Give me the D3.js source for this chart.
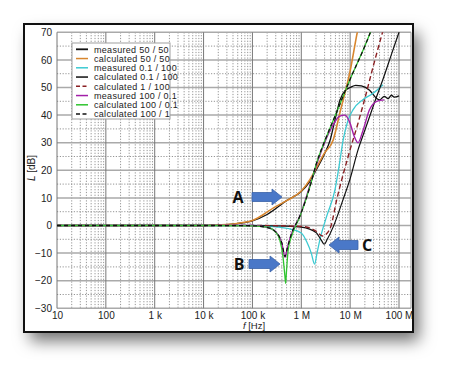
<!DOCTYPE html>
<html><head><meta charset="utf-8">
<script src="https://cdn.jsdelivr.net/npm/d3@7"></script>
<style>
html,body{margin:0;padding:0;background:#fff;}
svg{display:block;font-family:"Liberation Sans",Arial,sans-serif;}
</style></head>
<body>
<svg id="c" width="461" height="381"></svg>
<script>
// ---------- data ----------
const xTickValues = [10, 100, 1e3, 1e4, 1e5, 1e6, 1e7, 1e8];
const xTickLabels = ["10", "100", "1 k", "10 k", "100 k", "1 M", "10 M", "100 M"];
const yTickValues = [-30, -20, -10, 0, 10, 20, 30, 40, 50, 60, 70];

const seriesNames = ["measured 50 / 50", "calculated 50 / 50", "measured 0.1 / 100", "calculated 0.1 / 100",
  "calculated 1 / 100", "measured 100 / 0.1", "calculated 100 / 0.1", "calculated 100 / 1"];

const meas5050F = [10, 1e3, 1e4, 3e4, 6e4, 1e5, 2e5, 5e5, 1e6, 1.5e6, 2e6, 3e6, 3.9e6, 5e6, 6.2e6, 8e6, 1e7, 1.3e7, 1.7e7, 2.5e7, 3.5e7, 4e7, 5e7, 6e7, 7e7, 8e7, 1e8];
const meas5050L = [0, 0, 0, 0.3, 0.9, 1.7, 4, 9, 12.3, 16, 20, 26, 31, 39, 45.5, 49, 50, 50.8, 50.6, 49, 46, 45.5, 46.8, 46, 47.2, 46.5, 47];

const calc5050F = [10, 1e3, 1e4, 3e4, 6e4, 1e5, 1.65e5, 2.7e5, 5e5, 1e6, 1.5e6, 2.1e6, 3e6, 4.5e6, 6.2e6, 1e7, 1.4e7, 2e7];
const calc5050L = [0, 0, 0, 0.3, 1, 1.8, 3.9, 6.4, 9, 12.5, 16.6, 21.3, 26.3, 31, 41, 56, 70, 82];

const meas01100F = [10, 1e4, 1e5, 3e5, 6e5, 1e6, 1.3e6, 1.6e6, 1.87e6, 2.1e6, 2.4e6, 3.3e6, 4.9e6, 6e6, 7.2e6, 9e6, 1.15e7, 1.8e7, 3e7, 4.7e7];
const meas01100L = [0, 0, 0, -0.5, -1.3, -2.7, -6, -10, -14, -10, -5.2, 3.3, 13, 22, 31, 38, 42, 45.5, 48, 51];

const calc01100F = [10, 1e4, 1e5, 5e5, 1e6, 2e6, 2.6e6, 2.95e6, 3.4e6, 4.5e6, 7.1e6, 1e7, 1.45e7, 2e7, 3e7, 4.7e7, 7e7, 1e8, 1.5e8];
const calc01100L = [0, 0, 0, -0.2, -0.6, -2.5, -5.5, -6.8, -5, -0.5, 9.2, 17, 27.4, 34.5, 43.5, 53, 62, 70, 79];

const calc1100F = [10, 1e4, 1e5, 1e6, 2e6, 2.7e6, 3.3e6, 4e6, 5.3e6, 9.1e6, 1.5e7, 2e7, 3e7, 4.6e7, 6e7];
const calc1100L = [0, 0, 0, -0.3, -2, -3.8, -3, -0.5, 9.3, 25, 38, 46, 58, 70, 77];

const meas1000F = [10, 1e4, 1e5, 2e5, 2.7e5, 4e5, 4.65e5, 5.2e5, 6.3e5, 9.4e5, 1.5e6, 2.05e6, 3e6, 4.5e6, 6e6, 7.8e6, 1e7, 1.2e7, 1.45e7, 1.8e7, 2.5e7, 3.5e7, 5e7];
const meas1000L = [0, 0, 0, -0.7, -1.6, -6.5, -11.5, -8, -3, 3.5, 14.5, 22, 30, 36.5, 39.5, 40, 37, 32.5, 30, 34, 42, 45, 45.5];

const calc1000F = [10, 1e4, 1e5, 2e5, 3e5, 3.6e5, 4.2e5, 4.6e5, 4.78e5, 5e5, 5.4e5, 6.3e5, 9.4e5, 1.5e6, 2.05e6, 3e6, 5e6, 1e7, 2e7, 2.6e7, 4e7];
const calc1000L = [0, 0, -0.1, -0.6, -2.5, -5, -11, -18, -21, -16, -8.8, -4, 3.3, 14, 22.6, 30.5, 40, 53, 65, 70, 78];

const calc1001F = [10, 1e4, 1e5, 2e5, 2.7e5, 4e5, 4.65e5, 5.2e5, 6.3e5, 9.4e5, 1.5e6, 2.05e6, 3e6, 5e6, 1e7, 2e7, 2.6e7, 4e7];
const calc1001L = [0, 0, -0.1, -0.7, -1.6, -6.3, -11.2, -8, -3, 3.5, 14, 22.6, 30.5, 40, 53, 65, 70, 78];

const seriesF = [meas5050F, calc5050F, meas01100F, calc01100F, calc1100F, meas1000F, calc1000F, calc1001F];
const seriesL = [meas5050L, calc5050L, meas01100L, calc01100L, calc1100L, meas1000L, calc1000L, calc1001L];
const seriesColor = ["#111", "#d8862e", "#3ccad2", "#111", "#8a1f22", "#a21fa8", "#2fc42f", "#111"];
const seriesWidth = [1.3, 1.6, 1.3, 1.2, 1.4, 1.4, 1.3, 1.3];
const seriesDash = [null, null, null, null, "5,3", null, null, "4,3"];

const arrowLabels = ["A", "B", "C"];

// ---------- layout ----------
const svg = d3.select("#c");
const W = 461, H = 381;
const frame = {x0: 24, y0: 24, x1: 413, y1: 332};
const plot = {l: 57, r: 411, t: 32.3, b: 308.3};

const x = d3.scaleLog().domain([10, 1.76e8]).range([plot.l, plot.r]);
const y = d3.scaleLinear().domain([-30, 70]).range([plot.b, plot.t]);

const defs = svg.append("defs");
const flt = defs.append("filter").attr("id", "sh").attr("x", "-20%").attr("y", "-20%").attr("width", "140%").attr("height", "150%");
flt.append("feDropShadow").attr("dx", 6).attr("dy", 9).attr("stdDeviation", 8).attr("flood-color", "#000").attr("flood-opacity", 0.55);
defs.append("clipPath").attr("id", "clip").append("rect")
  .attr("x", plot.l).attr("y", plot.t).attr("width", plot.r - plot.l).attr("height", plot.b - plot.t);

svg.append("rect").attr("width", W).attr("height", H).attr("fill", "#fff");
svg.append("rect").attr("x", frame.x0).attr("y", frame.y0)
  .attr("width", frame.x1 - frame.x0).attr("height", frame.y1 - frame.y0)
  .attr("fill", "#fff").attr("filter", "url(#sh)");

// grid
const g = svg.append("g");
const minorX = [];
for (let d = 1; d <= 8; d++) for (let m = 2; m <= 9; m++) { const v = m * Math.pow(10, d); if (v < 1.76e8) minorX.push(v); }
g.selectAll(".mx").data(minorX).enter().append("line")
  .attr("x1", d => x(d)).attr("x2", d => x(d)).attr("y1", plot.t).attr("y2", plot.b)
  .attr("stroke", "#7a7a7a").attr("stroke-width", 0.8).attr("stroke-dasharray", "1.2,1.6");
const minorY = d3.range(-25, 70, 10);
g.selectAll(".my").data(minorY).enter().append("line")
  .attr("x1", plot.l).attr("x2", plot.r).attr("y1", d => y(d)).attr("y2", d => y(d))
  .attr("stroke", "#7a7a7a").attr("stroke-width", 0.8).attr("stroke-dasharray", "1.2,1.6");
g.selectAll(".Y").data(yTickValues).enter().append("line")
  .attr("x1", plot.l).attr("x2", plot.r).attr("y1", d => y(d)).attr("y2", d => y(d))
  .attr("stroke", "#aaa").attr("stroke-width", 1.5);
g.selectAll(".X").data(xTickValues).enter().append("line")
  .attr("x1", d => x(d)).attr("x2", d => x(d)).attr("y1", plot.t).attr("y2", plot.b)
  .attr("stroke", "#777").attr("stroke-width", 1);
g.append("line").attr("x1", plot.r).attr("x2", plot.r).attr("y1", plot.t).attr("y2", plot.b).attr("stroke", "#999").attr("stroke-width", 1);

// axes (labels only)
const ax = svg.append("g").attr("transform", `translate(0,${plot.b})`)
  .call(d3.axisBottom(x).tickValues(xTickValues).tickFormat((d, i) => xTickLabels[i]).tickSize(0).tickPadding(4));
ax.select(".domain").remove();
ax.selectAll("text").attr("font-size", 10).attr("fill", "#222").attr("font-family", "Liberation Sans, Arial, sans-serif");
const ay = svg.append("g").attr("transform", `translate(${plot.l},0)`)
  .call(d3.axisLeft(y).tickValues(yTickValues).tickFormat(d3.format("d")).tickSize(0).tickPadding(5));
ay.select(".domain").remove();
ay.selectAll("text").attr("font-size", 10).attr("fill", "#222").attr("font-family", "Liberation Sans, Arial, sans-serif");

// axis titles
const xt = svg.append("text").attr("x", 254).attr("y", 329.3).attr("text-anchor", "middle").attr("font-size", 9.5).attr("fill", "#222");
xt.append("tspan").attr("font-style", "italic").text("f");
xt.append("tspan").text(" [Hz]");
const yt = svg.append("text").attr("transform", "translate(35,168) rotate(-90)").attr("text-anchor", "middle").attr("font-size", 10).attr("fill", "#222");
yt.append("tspan").attr("font-style", "italic").text("L");
yt.append("tspan").text(" [dB]");

// curves
const line = d3.line().x(d => x(d[0])).y(d => y(d[1])).curve(d3.curveMonotoneX);
const cg = svg.append("g").attr("clip-path", "url(#clip)");
seriesF.forEach((F, i) => {
  const pts = F.map((f, j) => [f, seriesL[i][j]]);
  cg.append("path").attr("d", line(pts)).attr("fill", "none")
    .attr("stroke", seriesColor[i]).attr("stroke-width", seriesWidth[i])
    .attr("stroke-dasharray", seriesDash[i]).attr("stroke-linejoin", "round");
});

// legend
const lg = svg.append("g");
lg.append("rect").attr("x", 72).attr("y", 43).attr("width", 98).attr("height", 76).attr("fill", "#fff").attr("stroke", "#a0a0a0").attr("stroke-width", 1);
seriesNames.forEach((n, i) => {
  const yy = 49.3 + i * 9.25;
  lg.append("line").attr("x1", 76).attr("x2", 88).attr("y1", yy).attr("y2", yy)
    .attr("stroke", seriesColor[i]).attr("stroke-width", i === 0 ? 1.8 : 1.5).attr("stroke-dasharray", seriesDash[i] ? "4,2.5" : null);
  lg.append("text").attr("x", 94).attr("y", yy + 3.2).attr("font-size", 9).attr("letter-spacing", 0.3).attr("fill", "#222").text(n);
});

// arrows
const arrowSpecs = [
  {lab: 0, tail: 252, head: 282, yy: 197, tx: 238},
  {lab: 1, tail: 249, head: 280, yy: 264, tx: 239},
  {lab: 2, tail: 358, head: 329, yy: 245, tx: 367}
];
arrowSpecs.forEach(a => {
  const dir = a.head > a.tail ? 1 : -1;
  const hl = 10, bw = 4.5, hw = 8;
  const bx = a.head - dir * hl;
  const p = [[a.tail, a.yy - bw], [bx, a.yy - bw], [bx, a.yy - hw], [a.head, a.yy], [bx, a.yy + hw], [bx, a.yy + bw], [a.tail, a.yy + bw]];
  svg.append("path").attr("d", "M" + p.map(q => q.join(",")).join("L") + "Z")
    .attr("fill", "#4a78c8").attr("stroke", "#3a62a8").attr("stroke-width", 0.8);
  svg.append("text").attr("x", a.tx).attr("y", a.yy + 6).attr("text-anchor", "middle")
    .attr("font-size", 16).attr("font-weight", "bold").attr("fill", "#111")
    .attr("font-family", "Open Sans, Liberation Sans, Arial, sans-serif").text(arrowLabels[a.lab]);
});

// frame border
svg.append("rect").attr("x", frame.x0).attr("y", frame.y0)
  .attr("width", frame.x1 - frame.x0).attr("height", frame.y1 - frame.y0)
  .attr("fill", "none").attr("stroke", "#111").attr("stroke-width", 2);
</script>
</body></html>
